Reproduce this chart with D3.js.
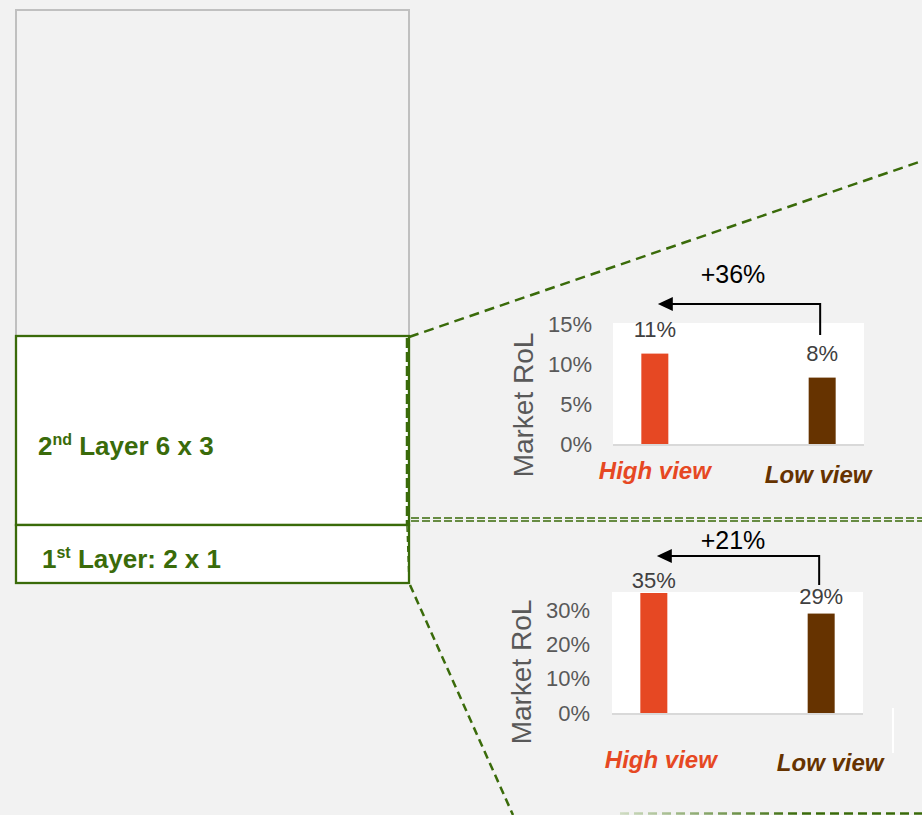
<!DOCTYPE html>
<html>
<head>
<meta charset="utf-8">
<script src="https://cdn.jsdelivr.net/npm/d3@7"></script>
<style>
  html, body { margin: 0; padding: 0; background: #f2f2f2; }
  svg { display: block; }
  text { font-family: "Liberation Sans", Arial, sans-serif; }
</style>
</head>
<body>
<svg id="chart" width="922" height="815"></svg>
<script>
// ---- data ----
const categories = ["High view", "Low view"];
const layer2Values = [11.3, 8.3];    // Market RoL, %, 2nd layer 6 x 3
const layer1Values = [35, 29];       // Market RoL, %, 1st layer 2 x 1
const layer2Ticks = [0, 5, 10, 15];
const layer1Ticks = [0, 10, 20, 30];
const layerNames = ["2nd Layer 6 x 3", "1st Layer: 2 x 1"];
const axisTitle = "Market RoL";

// ---- styling ----
const GREEN = "#3a6b0a";
const BAR_COLORS = ["#e64823", "#663300"];
const pct = v => d3.format(".0f")(v) + "%";

const svg = d3.select("#chart");

// background
svg.append("rect").attr("width", 922).attr("height", 815).attr("fill", "#f2f2f2");

// ---- stack of layer boxes on the left ----
svg.append("rect")
  .attr("x", 16).attr("y", 10).attr("width", 393).attr("height", 326)
  .attr("fill", "#f2f2f2").attr("stroke", "#c0c0c0").attr("stroke-width", 2);

svg.append("rect")
  .attr("x", 16).attr("y", 336).attr("width", 393).attr("height", 189)
  .attr("fill", "#ffffff").attr("stroke", GREEN).attr("stroke-width", 2.3);

svg.append("rect")
  .attr("x", 16).attr("y", 525).attr("width", 393).attr("height", 58)
  .attr("fill", "#ffffff").attr("stroke", GREEN).attr("stroke-width", 2.3);

function layerLabel(x, y, name) {
  // split "2nd Layer..." into number, ordinal suffix and rest
  const m = name.match(/^(\d+)(st|nd|rd|th)(.*)$/);
  const t = svg.append("text")
    .attr("x", x).attr("y", y)
    .attr("fill", GREEN).attr("font-weight", "bold").attr("font-size", 26);
  t.append("tspan").text(m[1]);
  t.append("tspan").attr("font-size", 16).attr("dy", -10).text(m[2]);
  t.append("tspan").attr("dy", 10).text(m[3]);
}
layerLabel(38, 455, layerNames[0]);
layerLabel(42, 568, layerNames[1]);

// ---- dashed zoom connectors ----
const dashed = (pts, w, dash, stroke) => svg.append("path")
  .attr("d", d3.line()(pts))
  .attr("fill", "none")
  .attr("stroke", stroke || GREEN)
  .attr("stroke-width", w)
  .attr("stroke-dasharray", dash);

dashed([[409, 337], [922, 161]], 2.5, "10,6");
dashed([[407, 338], [407, 524]], 2.5, "10,4");
dashed([[407, 526], [409, 584]], 1.5, "6,4");
dashed([[411, 518], [922, 518]], 1.5, "8,3");
dashed([[411, 521], [922, 521]], 1.5, "8,3");
dashed([[410, 585], [513, 815]], 2.5, "8,5");

const grad = svg.append("defs").append("linearGradient")
  .attr("id", "fadeGreen").attr("gradientUnits", "userSpaceOnUse")
  .attr("x1", 620).attr("x2", 922).attr("y1", 0).attr("y2", 0);
grad.append("stop").attr("offset", "0%").attr("stop-color", "#cfdcc2");
grad.append("stop").attr("offset", "60%").attr("stop-color", GREEN);
grad.append("stop").attr("offset", "100%").attr("stop-color", GREEN);
dashed([[620, 813.5], [922, 813.5]], 2.5, "9,5", "url(#fadeGreen)");

// stray white guide line on the right
svg.append("line")
  .attr("x1", 893).attr("x2", 893).attr("y1", 708).attr("y2", 753)
  .attr("stroke", "#ffffff").attr("stroke-width", 2);

// ---- bar panels ----
const panels = [
  {
    values: layer2Values, ticks: layer2Ticks, max: 15,
    plot: { x0: 613, x1: 864, top: 323, base: 444 },
    yTop: 324, labelGap: [17, 17],
    titleX: 533, titleY: 405, tickX: 592,
    arrowY: 304, arrowStartY: 335, deltaY: 283,
    catY: [479, 483], catDx: [0, -4]
  },
  {
    values: layer1Values, ticks: layer1Ticks, max: 35,
    plot: { x0: 612, x1: 863, top: 592, base: 713 },
    yTop: 593, labelGap: [5, 10],
    titleX: 531, titleY: 672, tickX: 590,
    arrowY: 556, arrowStartY: 585, deltaY: 549,
    catY: [768, 771], catDx: [7, 9]
  }
];

panels.forEach(p => {
  const g = svg.append("g");
  const x = d3.scalePoint().domain(categories)
    .range([p.plot.x0, p.plot.x1]).padding(0.25);
  const y = d3.scaleLinear().domain([0, p.max]).range([p.plot.base, p.yTop]);
  const barW = 27;

  // plot area
  g.append("rect")
    .attr("x", p.plot.x0).attr("y", p.plot.top)
    .attr("width", p.plot.x1 - p.plot.x0).attr("height", p.plot.base - p.plot.top)
    .attr("fill", "#ffffff");

  // y axis tick labels
  const axis = g.append("g")
    .attr("transform", `translate(${p.tickX},0)`)
    .call(d3.axisLeft(y).tickValues(p.ticks).tickSize(0).tickPadding(0).tickFormat(pct));
  axis.select(".domain").remove();
  axis.selectAll("text")
    .attr("font-family", "'Liberation Sans', Arial, sans-serif")
    .attr("font-size", 22).attr("fill", "#595959");

  // baseline
  g.append("line")
    .attr("x1", p.plot.x0).attr("x2", p.plot.x1)
    .attr("y1", y(0) + 1).attr("y2", y(0) + 1)
    .attr("stroke", "#d9d9d9").attr("stroke-width", 2);

  // axis title
  g.append("text")
    .attr("transform", `translate(${p.titleX},${p.titleY}) rotate(-90)`)
    .attr("text-anchor", "middle")
    .attr("font-size", 28).attr("fill", "#595959")
    .text(axisTitle);

  // bars
  g.selectAll("rect.bar").data(p.values).join("rect")
    .attr("class", "bar")
    .attr("x", (d, i) => x(categories[i]) - barW / 2)
    .attr("y", d => y(d))
    .attr("width", barW)
    .attr("height", d => y(0) - y(d))
    .attr("fill", (d, i) => BAR_COLORS[i]);

  // value labels
  g.selectAll("text.val").data(p.values).join("text")
    .attr("class", "val")
    .attr("x", (d, i) => x(categories[i]))
    .attr("y", (d, i) => y(d) - p.labelGap[i])
    .attr("text-anchor", "middle")
    .attr("font-size", 22).attr("fill", "#404040")
    .text(pct);

  // category labels
  g.selectAll("text.cat").data(categories).join("text")
    .attr("class", "cat")
    .attr("x", (d, i) => x(d) + p.catDx[i])
    .attr("y", (d, i) => p.catY[i])
    .attr("text-anchor", "middle")
    .attr("font-size", 24).attr("font-weight", "bold").attr("font-style", "italic")
    .attr("fill", (d, i) => BAR_COLORS[i])
    .text(d => d);

  // uplift arrow from low view to high view
  const sx = x(categories[1]) - 2;
  const tip = x(categories[0]) + 3;
  g.append("path")
    .attr("d", d3.line()([[sx, p.arrowStartY], [sx, p.arrowY], [tip + 12, p.arrowY]]))
    .attr("fill", "none").attr("stroke", "#000").attr("stroke-width", 2);
  g.append("path")
    .attr("d", d3.line()([[tip, p.arrowY], [tip + 15, p.arrowY - 7], [tip + 15, p.arrowY + 7]]) + "Z")
    .attr("fill", "#000");

  const uplift = p.values[0] / p.values[1] - 1;
  g.append("text")
    .attr("x", 733).attr("y", p.deltaY)
    .attr("text-anchor", "middle")
    .attr("font-size", 25).attr("fill", "#000")
    .text("+" + d3.format(".0%")(uplift));
});
</script>
</body>
</html>
